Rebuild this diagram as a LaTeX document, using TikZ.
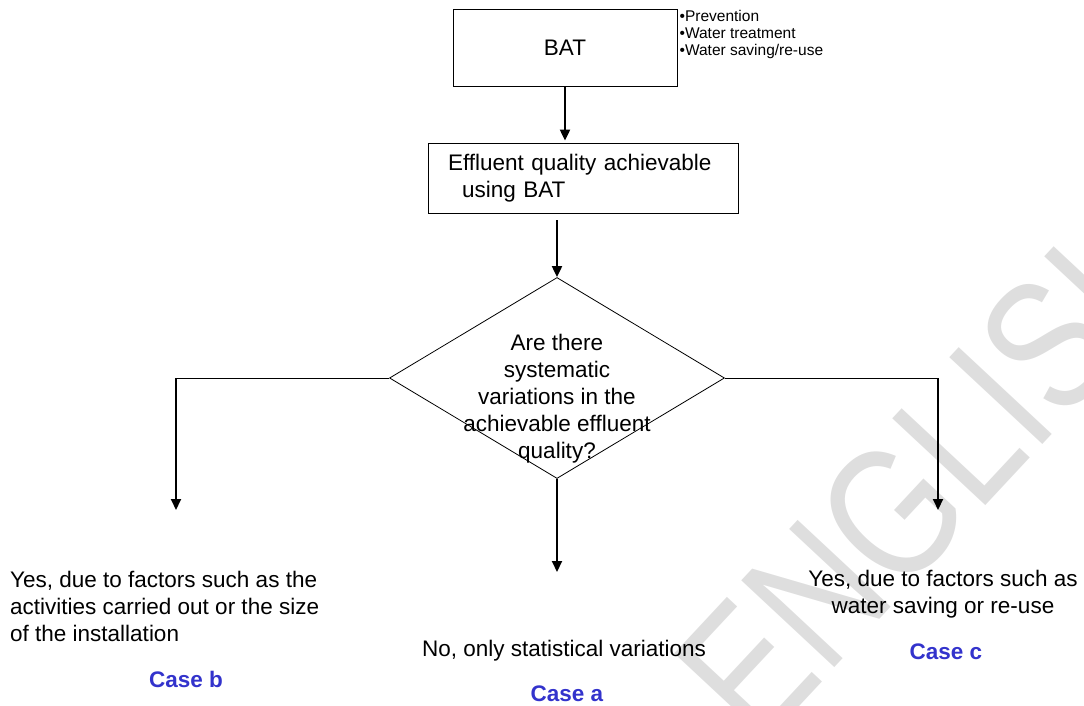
\documentclass[tikz,border=0pt]{standalone}
\usepackage{fontspec}
\setmainfont{Liberation Sans}
\usetikzlibrary{shapes.geometric,arrows.meta,positioning}
\definecolor{case-blue}{RGB}{51,51,204}
\tikzset{
    flow-box/.style = {draw, rectangle, line width=0.8pt, inner sep=0pt},
    decision-box/.style = {draw, diamond, line width=0.8pt, inner sep=0pt, minimum width=335pt, minimum height=201pt},
    body-text/.style = {font=\fontsize{22.5}{27}\selectfont, inner sep=0pt},
    small-text/.style = {font=\fontsize{15.5}{17}\selectfont, inner sep=0pt, align=left},
    case-label/.style = {text=case-blue, font=\fontsize{22.5}{27}\selectfont\bfseries, inner sep=0pt},
    flow-arrow/.style = {line width=2pt, -{Triangle[width=10pt,length=11pt]}},
    branch-line/.style = {line width=0.8pt},
    watermark/.style = {text=black!13, font=\fontsize{185}{185}\selectfont, rotate=47, xscale=0.8},
}

\begin{document}
\begin{tikzpicture}[x=1pt,y=-1pt]
\useasboundingbox (0,0) rectangle (1084,706);
\begin{scope}
\clip (0,0) rectangle (1084,706);
\node[watermark] (mark) at (934,468) {ENGLISH};
\end{scope}

\node[flow-box, body-text, minimum width=224pt, minimum height=77pt] (bat) at (565,47.5) {BAT};
\node[small-text, anchor=north west] (bullets) at ([xshift=2pt,yshift=-1pt]bat.north east) {•Prevention\\•Water treatment\\•Water saving/re-use};

\node[flow-box, body-text, minimum width=310pt, minimum height=70pt, text width=270pt, align=left] (effluent) at (583,178) {Effluent quality achievable\\\hspace*{14pt}using BAT};

\node[decision-box] (question) at (557,378) {};
\node[body-text, align=center] (question-text) at (557,399) {Are there\\systematic\\variations in the\\achievable effluent\\quality?};

\coordinate (b-corner) at (176,378);
\coordinate (b-tip) at (176,510);
\coordinate (c-corner) at (938,378);
\coordinate (c-tip) at (938,510);
\coordinate (a-tip) at (557,572);

\node[body-text, align=left, anchor=west] (yes-b) at (10,606) {Yes, due to factors such as the\\activities carried out or the size\\of the installation};
\node[case-label] (case-b) at (186,679) {Case b};
\node[body-text] (no-a) at (564,651) {No, only statistical variations};
\node[case-label] (case-a) at (567,694) {Case a};
\node[body-text, align=center] (yes-c) at (943,594) {Yes, due to factors such as\\water saving or re-use};
\node[case-label] (case-c) at (946,652) {Case c};

\draw[flow-arrow, shorten >=2pt] (bat.south) -- (bat.south |- effluent.north);
\draw[flow-arrow, shorten <=7pt] (question.north |- effluent.south) -- (question.north);
\draw[branch-line] (question.west) -- (b-corner);
\draw[flow-arrow] (b-corner) -- (b-tip);
\draw[branch-line] (question.east) -- (c-corner);
\draw[flow-arrow] (c-corner) -- (c-tip);
\draw[flow-arrow] (question.south) -- (a-tip);
\end{tikzpicture}
\end{document}
